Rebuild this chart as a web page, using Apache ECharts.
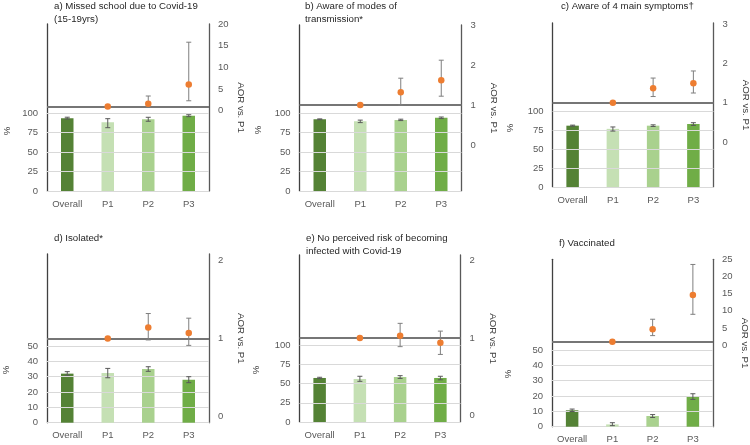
<!DOCTYPE html>
<html>
<head>
<meta charset="utf-8">
<script src="https://cdn.jsdelivr.net/npm/echarts@6/dist/echarts.min.js"></script>
<style>html,body{margin:0;padding:0;background:#fff}#c{width:750px;height:445px}</style>
</head>
<body>
<div id="c"></div>
<script>
// ---------- data ----------
const categories = ['Overall', 'P1', 'P2', 'P3'];
const barColors = ['#548235', '#C5E0B4', '#A9D18E', '#70AD47'];

const pctTicks100 = [0, 25, 50, 75, 100];
const pctTicks50 = [0, 10, 20, 30, 40, 50];
const aorTicksA = [0, 5, 10, 15, 20];
const aorTicks3 = [0, 1, 2, 3];
const aorTicks2 = [0, 1, 2];
const aorTicksF = [0, 5, 10, 15, 20, 25];

// a) Missed school
const aPct = [93.8, 88.5, 92.3, 97.0];
const aPctLo = [92.6, 81.5, 89.8, 95.7];
const aPctHi = [95.0, 93.1, 94.9, 98.2];
const aAor = ['-', 1, 1.62, 6.06];
const aAorLo = ['-', '-', 0.9, 2.3];
const aAorHi = ['-', '-', 3.4, 15.8];

// b) Aware of modes of transmission
const bPct = [92.3, 89.7, 91.4, 94.2];
const bPctLo = [91.8, 88.0, 90.6, 93.2];
const bPctHi = [92.8, 91.2, 92.4, 95.2];
const bAor = ['-', 1, 1.32, 1.62];
const bAorLo = ['-', '-', 1.0, 1.22];
const bAorHi = ['-', '-', 1.67, 2.12];

// c) Aware of 4 main symptoms
const cPct = [80.7, 76.5, 80.7, 82.9];
const cPctLo = [80.0, 73.6, 79.6, 81.0];
const cPctHi = [81.4, 79.0, 81.8, 84.6];
const cAor = ['-', 1, 1.37, 1.5];
const cAorLo = ['-', '-', 1.16, 1.25];
const cAorHi = ['-', '-', 1.63, 1.81];

// d) Isolated
const dPct = [32.0, 32.4, 35.0, 28.0];
const dPctLo = [30.9, 29.3, 33.5, 26.1];
const dPctHi = [33.3, 35.4, 36.5, 30.0];
const dAor = ['-', 1, 1.14, 1.07];
const dAorLo = ['-', '-', 0.98, 0.91];
const dAorHi = ['-', '-', 1.32, 1.26];

// e) No perceived risk
const ePct = [57.4, 56.1, 58.7, 57.4];
const ePctLo = [56.6, 53.0, 56.8, 55.0];
const ePctHi = [58.3, 59.6, 60.4, 59.6];
const eAor = ['-', 1, 1.03, 0.94];
const eAorLo = ['-', '-', 0.89, 0.79];
const eAorHi = ['-', '-', 1.19, 1.09];

// f) Vaccinated
const fPct = [10.7, 1.5, 7.0, 19.6];
const fPctLo = [9.9, 0.7, 6.0, 17.8];
const fPctHi = [11.5, 2.6, 7.9, 21.5];
const fAor = ['-', 1, 4.65, 14.6];
const fAorLo = ['-', '-', 2.8, 9.0];
const fAorHi = ['-', '-', 7.56, 23.5];

const titles = [
  'a) Missed school due to Covid-19\n(15-19yrs)',
  'b) Aware of modes of\ntransmission*',
  'c) Aware of 4 main symptoms\u2020',
  'd) Isolated*',
  'e) No perceived risk of becoming\ninfected with Covid-19',
  'f) Vaccinated'
];
const pctAxisName = '%';
const aorAxisName = 'AOR vs. P1';

// ---------- layout ----------
const FONT = "'Liberation Sans', Arial, sans-serif";
const panels = [
  { pct: aPct, lo: aPctLo, hi: aPctHi, aor: aAor, alo: aAorLo, ahi: aAorHi, pT: pctTicks100, rT: aorTicksA,
    g: { left: 47, top: 24, width: 162, height: 167 }, lMax: 215, rMin: -18.5, rMax: 20,
    title: { left: 54, top: 0 }, pctPos: [7, 131] },
  { pct: bPct, lo: bPctLo, hi: bPctHi, aor: bAor, alo: bAorLo, ahi: bAorHi, pT: pctTicks100, rT: aorTicks3,
    g: { left: 299.5, top: 25, width: 162, height: 166 }, lMax: 213.6, rMin: -1.15, rMax: 3.0,
    title: { left: 305, top: 0 }, pctPos: [258, 130] },
  { pct: cPct, lo: cPctLo, hi: cPctHi, aor: cAor, alo: cAorLo, ahi: cAorHi, pT: pctTicks100, rT: aorTicks3,
    g: { left: 552.5, top: 23, width: 161, height: 164 }, lMax: 215.8, rMin: -1.14, rMax: 3.03,
    title: { left: 561, top: 0 }, pctPos: [510, 128] },
  { pct: dPct, lo: dPctLo, hi: dPctHi, aor: dAor, alo: dAorLo, ahi: dAorHi, pT: pctTicks50, rT: aorTicks2,
    g: { left: 47, top: 254, width: 162, height: 168.7 }, lMax: 110, rMin: -0.085, rMax: 2.086,
    title: { left: 54, top: 232 }, pctPos: [6, 370] },
  { pct: ePct, lo: ePctLo, hi: ePctHi, aor: eAor, alo: eAorLo, ahi: eAorHi, pT: pctTicks100, rT: aorTicks2,
    g: { left: 299.5, top: 255, width: 161, height: 167 }, lMax: 217.7, rMin: -0.08, rMax: 2.07,
    title: { left: 306, top: 232 }, pctPos: [256, 370] },
  { pct: fPct, lo: fPctLo, hi: fPctHi, aor: fAor, alo: fAorLo, ahi: fAorHi, pT: pctTicks50, rT: aorTicksF,
    g: { left: 552, top: 259.3, width: 161, height: 167.4 }, lMax: 109.2, rMin: -23.7, rMax: 25,
    title: { left: 559, top: 236.5 }, pctPos: [508, 374] }
];

function errRender(color) {
  return function (params, api) {
    const x = api.value(0), lo = api.value(1), hi = api.value(2);
    const a = api.coord([x, lo]), b = api.coord([x, hi]);
    const w = 2.5;
    const st = { stroke: color, lineWidth: 1 };
    return { type: 'group', children: [
      { type: 'line', shape: { x1: a[0], y1: a[1], x2: b[0], y2: b[1] }, style: st },
      { type: 'line', shape: { x1: a[0] - w, y1: a[1], x2: a[0] + w, y2: a[1] }, style: st },
      { type: 'line', shape: { x1: b[0] - w, y1: b[1], x2: b[0] + w, y2: b[1] }, style: st }
    ]};
  };
}
function errData(lo, hi) {
  const out = [];
  lo.forEach((v, i) => { if (v !== '-' && hi[i] !== '-') out.push([i, v, hi[i]]); });
  return out;
}

const grid = [], xAxis = [], yAxis = [], series = [], title = [], graphic = [];
panels.forEach((p, i) => {
  grid.push(Object.assign({ containLabel: false, outerBoundsMode: 'none' }, p.g));
  xAxis.push({
    type: 'category', gridIndex: i, data: categories,
    axisLine: { onZero: false, lineStyle: { color: '#D9D9D9', width: 1 } },
    axisTick: { show: false },
    axisLabel: { color: '#595959', fontSize: 9.5, fontFamily: FONT, margin: 8 }
  });
  yAxis.push({
    type: 'value', gridIndex: i, position: 'left', min: 0, max: p.lMax,
    axisLine: { show: true, onZero: false, lineStyle: { color: '#404040', width: 1.3 } },
    axisTick: { show: false }, splitLine: { show: false },
    axisLabel: { customValues: p.pT, color: '#595959', fontSize: 9.5, fontFamily: FONT, margin: 9 }
  });
  yAxis.push({
    type: 'value', gridIndex: i, position: 'right', min: p.rMin, max: p.rMax,
    name: aorAxisName, nameLocation: 'middle', nameRotate: -90, nameGap: 27,
    nameTextStyle: { color: '#404040', fontSize: 9.7, fontFamily: FONT },
    axisLine: { show: true, onZero: false, lineStyle: { color: '#595959', width: 1.3 } },
    axisTick: { show: false }, splitLine: { show: false },
    axisLabel: { customValues: p.rT, color: '#595959', fontSize: 9.5, fontFamily: FONT, margin: 9 }
  });
  const yl = i * 2, yr = i * 2 + 1;
  // gridlines (behind bars)
  series.push({
    type: 'line', xAxisIndex: i, yAxisIndex: yl, data: ['-', '-', '-', '-'], z: 1, silent: true,
    markLine: { silent: true, symbol: 'none', label: { show: false },
      lineStyle: { color: '#D9D9D9', width: 1, type: 'solid' },
      data: p.pT.filter(v => v > 0).map(v => ({ yAxis: v })) }
  });
  series.push({
    type: 'bar', xAxisIndex: i, yAxisIndex: yl, barWidth: 12.5, z: 3,
    data: p.pct.map((v, k) => ({ value: v, itemStyle: { color: barColors[k] } }))
  });
  series.push({
    type: 'custom', xAxisIndex: i, yAxisIndex: yl, z: 5, renderItem: errRender('#595959'),
    encode: { x: 0, y: [1, 2] }, data: errData(p.lo, p.hi)
  });
  series.push({
    type: 'custom', xAxisIndex: i, yAxisIndex: yr, z: 5, renderItem: errRender('#7F7F7F'),
    encode: { x: 0, y: [1, 2] }, data: errData(p.alo, p.ahi)
  });
  series.push({
    type: 'scatter', xAxisIndex: i, yAxisIndex: yr, z: 6, symbolSize: 6.5,
    itemStyle: { color: '#ED7D31', opacity: 1 }, data: p.aor,
    markLine: { silent: true, symbol: 'none', label: { show: false },
      lineStyle: { color: '#767676', width: 2, type: 'solid' }, data: [{ yAxis: 1 }] }
  });
  title.push({
    text: titles[i], left: p.title.left, top: p.title.top, padding: 0,
    textStyle: { color: '#262626', fontSize: 9.7, fontWeight: 'normal', fontFamily: FONT, lineHeight: 13 }
  });
  graphic.push({
    type: 'text', x: p.pctPos[0], y: p.pctPos[1], rotation: Math.PI / 2,
    style: { text: pctAxisName, fill: '#404040', fontSize: 9.7, fontFamily: FONT, align: 'center', verticalAlign: 'middle' }
  });
});

const chart = echarts.init(document.getElementById('c'), null, { renderer: 'canvas' });
chart.setOption({ animation: false, backgroundColor: '#fff', grid, xAxis, yAxis, series, title, graphic });
</script>
</body>
</html>
